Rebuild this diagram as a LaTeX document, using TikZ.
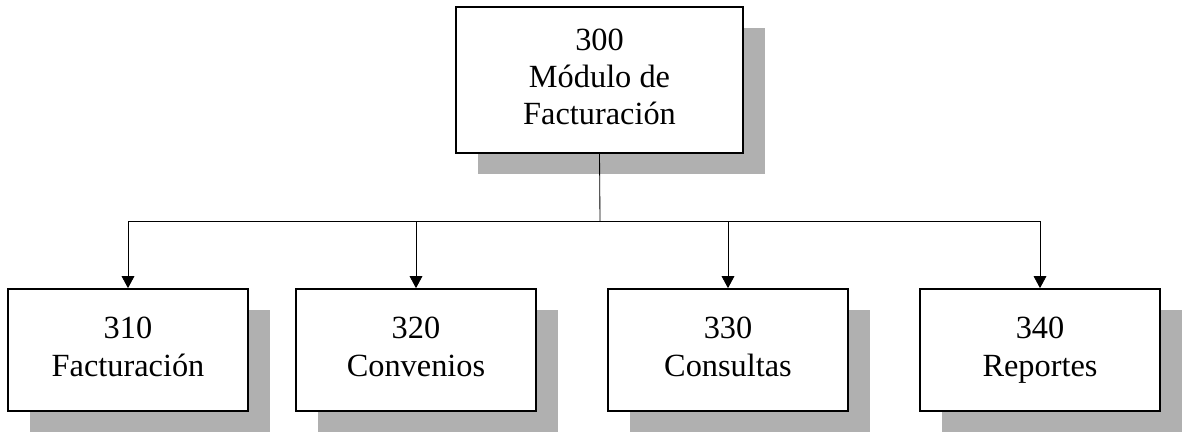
\documentclass[tikz,border=0pt]{standalone}
\usepackage{fontspec}
\setmainfont{Liberation Serif}
\usetikzlibrary{shadows,arrows.meta}
\colorlet{shadowgray}{black!31}

\tikzset{
  modbox/.style={draw,line width=1.2pt,fill=white,align=center,
    font=\fontsize{23}{26.5}\selectfont,
    drop shadow={shadow xshift=0.55cm,shadow yshift=-0.53cm,fill=shadowgray,opacity=1}},
  subbox/.style={modbox,minimum width=6cm,minimum height=3.05cm},
  link/.style={line width=0.6pt,-{Triangle[length=8.5pt,width=9pt]}}
}

\begin{document}
\begin{tikzpicture}[x=0.025cm,y=-0.025cm]
            \useasboundingbox (0,0) rectangle (1187,433);

            \node [modbox,minimum width=7.175cm,minimum height=3.65cm] (m300) at (599.5,80)
                {\strut 300\\\strut Módulo de\\\strut Facturación};

            \node [subbox] (m310) at (128,350) {\strut 310\\\strut Facturación};
            \node [subbox] (m320) at (416,350) {\strut 320\\\strut Convenios};
            \node [subbox] (m330) at (728,350) {\strut 330\\\strut Consultas};
            \node [subbox] (m340) at (1040,350) {\strut 340\\\strut Reportes};

            \coordinate (bus) at (600,221);
            \draw [line width=0.6pt] (m300.south) -- (bus);
            \draw [line width=0.6pt] (m310.north |- bus) -- (m340.north |- bus);
            \foreach \m in {m310,m320,m330,m340} {
                \draw [link] (\m.north |- bus) -- (\m.north);
            }
\end{tikzpicture}
\end{document}
